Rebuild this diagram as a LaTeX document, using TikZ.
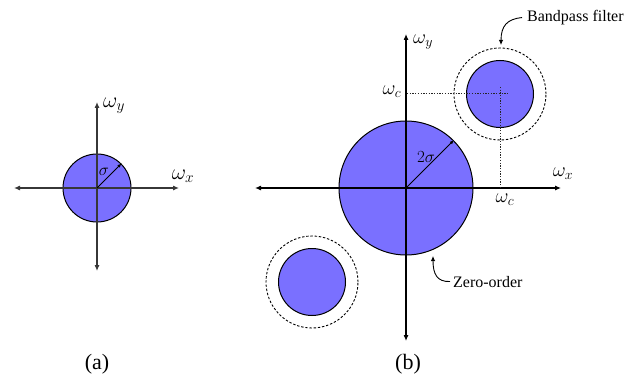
\documentclass[tikz,border=0pt]{standalone}
\usepackage{fix-cm}
\usepackage{fontspec}
\setmainfont{Liberation Serif}
\usetikzlibrary{arrows.meta}
\definecolor{fillc}{RGB}{122,112,255}
\definecolor{axa}{RGB}{55,55,55}
\begin{document}
\begin{tikzpicture}[x=1pt,y=-1pt,
  disc/.style={circle,draw=black,line width=1pt,fill=fillc,inner sep=0pt},
  ring/.style={circle,draw=black,line width=0.9pt,dash pattern=on 2.4pt off 1.8pt,inner sep=0pt,minimum size=92pt},
  axisline/.style={line width=1.1pt,{Latex[length=6pt,width=5pt]}-{Latex[length=6pt,width=5pt]}},
  radarrow/.style={line width=0.8pt,-{Latex[length=4pt,width=3.5pt]}},
  dotline/.style={line width=1pt,dash pattern=on 1.3pt off 1.4pt,black!85},
  callout/.style={line width=0.9pt,-{Latex[length=5pt,width=4.5pt]}},
  mlabA/.style={inner sep=0pt,font=\fontsize{22}{26}\selectfont},
  mlabB/.style={inner sep=0pt,font=\fontsize{20}{24}\selectfont},
  slab/.style={inner sep=0pt,font=\fontsize{17}{20}\selectfont},
  txt/.style={font=\fontsize{16}{19}\selectfont},
  caplab/.style={inner sep=0pt,font=\fontsize{22}{26}\selectfont}
]
\useasboundingbox (0,0) rectangle (636,374);

% ---------- panel (a) ----------
\node[disc,minimum size=68pt] (ca) at (97,188) {};
\coordinate (aL) at (14,188);
\coordinate (aR) at (179,188);
\coordinate (aT) at (97,102);
\coordinate (aB) at (97,271);
\draw[axisline,draw=axa] (aL) -- (aR);
\draw[axisline,draw=axa] (aT) -- (aB);
\draw[radarrow] (ca.center) -- (ca.45);
\node[slab] (sa) at (104,172) {$\sigma$};
\node[mlabA] (wya) at (114,106) {$\omega_y$};
\node[mlabA] (wxa) at (183,176) {$\omega_x$};
\node[caplab] (capa) at (97,364) {(a)};

% ---------- panel (b) ----------
\node[disc,minimum size=134pt] (cb) at (406,188) {};
\node[disc,minimum size=67pt] (cu) at (500,94) {};
\node[disc,minimum size=67pt] (cl) at (312,282) {};
\node[ring] (ru) at (500,94) {};
\node[ring] (rl) at (312,282) {};
\coordinate (bL) at (255,188);
\coordinate (bR) at (561,188);
\coordinate (bT) at (406,34);
\coordinate (bB) at (406,341);
\draw[axisline] (bL) -- (bR);
\draw[axisline] (bT) -- (bB);
\draw[radarrow] (cb.center) -- (cb.45);
\node[slab] (sb) at (426,157) {$2\sigma$};

\coordinate (wcy) at (407,94);
\coordinate (wcyE) at (508,94);
\coordinate (wcxT) at (500,87);
\coordinate (wcx) at (500,188);
\draw[dotline] (wcy) -- (wcyE);
\draw[dotline] (wcxT) -- (wcx);

\node[mlabB] (wyb) at (423,42) {$\omega_y$};
\node[mlabB] (wxb) at (563,174) {$\omega_x$};
\node[mlabB] (wcl) at (392,92) {$\omega_c$};
\node[mlabB] (wcb) at (505,200) {$\omega_c$};

\node[txt,inner sep=5pt,anchor=base west] (bpl) at (522,21.5) {Bandpass filter};
\coordinate (bptip) at (501,45);
\draw[callout] (bpl.west) .. controls (507,19) and (501,26) .. (bptip);

\node[txt,inner sep=3pt,anchor=base west] (zol) at (450,287) {Zero-order};
\coordinate (zotip) at (433,256);
\draw[callout] (zol.west) .. controls (437,282) and (433,274) .. (zotip);

\node[caplab] (capb) at (408,364) {(b)};
\end{tikzpicture}
\end{document}
